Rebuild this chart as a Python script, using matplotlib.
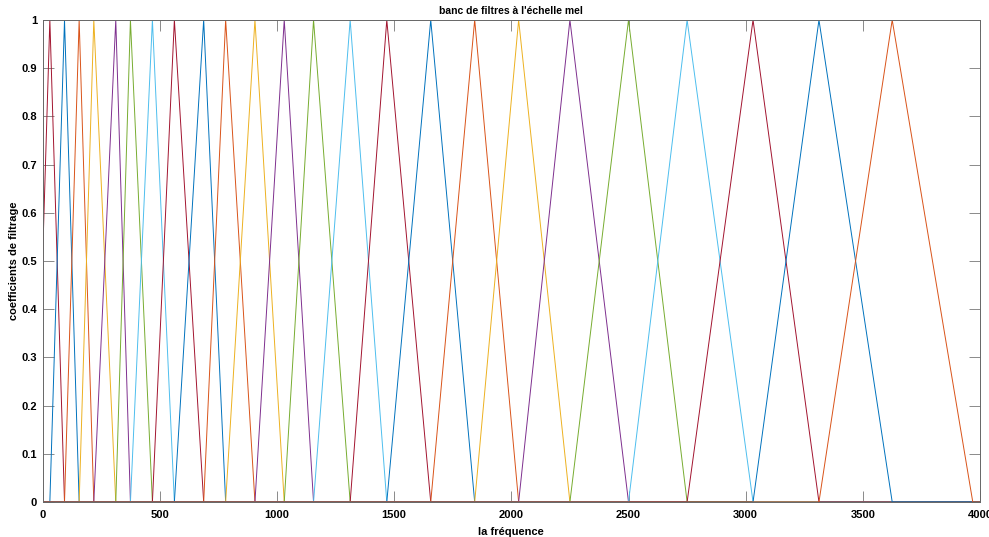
import matplotlib

matplotlib.use("Agg")
import matplotlib.pyplot as plt

plt.rcParams["font.family"] = ["Liberation Sans", "DejaVu Sans"]
plt.rcParams["font.weight"] = "bold"

# filter edges (Hz): filter i rises on [e[i], e[i+1]] and falls on [e[i+1], e[i+2]]
edges = [-31.25, 31.25, 93.75, 156.25, 218.75, 312.5, 375, 468.75, 562.5,
         687.5, 781.25, 906.25, 1031.25, 1156.25, 1312.5, 1468.75, 1656.25,
         1843.75, 2031.25, 2250, 2500, 2750, 3031.25, 3312.5, 3625, 3968.75]
f_max = 4000
xticks = [0, 500, 1000, 1500, 2000, 2500, 3000, 3500, 4000]
yticks = [0, 0.1, 0.2, 0.3, 0.4, 0.5, 0.6, 0.7, 0.8, 0.9, 1]
ytick_labels = ["0", "0.1", "0.2", "0.3", "0.4", "0.5", "0.6", "0.7", "0.8", "0.9", "1"]

# MATLAB default color order, first filter starts on the 7th colour
colors = ["#0072BD", "#D95319", "#EDB120", "#7E2F8E", "#77AC30", "#4DBEEE", "#A2142F"]

fig = plt.figure(figsize=(9.89, 5.37), dpi=100)
ax = fig.add_axes([0.043, 0.0652, 0.948, 0.8976])

for i in range(len(edges) - 2):
    lo, mid, hi = edges[i], edges[i + 1], edges[i + 2]
    xs, ys = [], []
    if lo > 0:
        xs += [0]
        ys += [0]
    xs += [lo, mid, hi, f_max]
    ys += [0, 1, 0, 0]
    ax.plot(xs, ys, color=colors[(i + 6) % 7], lw=0.7)

ax.set_xlim(0, f_max)
ax.set_ylim(0, 1)
ax.set_xticks(xticks)
ax.set_yticks(yticks)
ax.set_yticklabels(ytick_labels)
ax.tick_params(direction="in", length=8, width=0.6, color="#777777",
               top=True, right=True, labelsize=8)
ax.tick_params(axis="x", pad=6)
ax.tick_params(axis="y", pad=4)
for lab in ax.get_xticklabels() + ax.get_yticklabels():
    lab.set_fontweight("bold")
for s in ax.spines.values():
    s.set_color("#666666")
    s.set_linewidth(0.7)

ax.set_title("banc de filtres à l'échelle mel", fontsize=7.5, fontweight="bold", pad=4)
ax.set_xlabel("la fréquence", fontsize=8, fontweight="bold", labelpad=5)
ax.set_ylabel("coefficients de filtrage", fontsize=8, fontweight="bold", labelpad=2)

fig.savefig("out.png", dpi=100)
